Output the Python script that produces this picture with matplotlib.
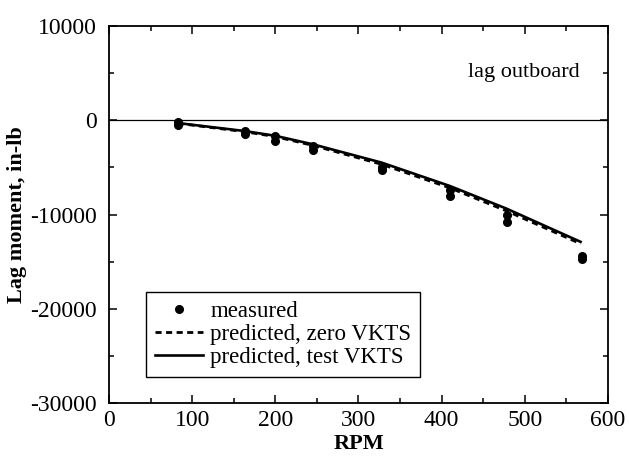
import matplotlib
matplotlib.use('Agg')
import matplotlib.pyplot as plt
from matplotlib.ticker import MultipleLocator

plt.rcParams['font.family'] = 'Liberation Serif'
plt.rcParams['axes.unicode_minus'] = False

# measured lag moment, two readings per rotor speed
rpm_meas = [83, 83, 163.5, 163.5, 200, 200, 245.5, 245.5,
            328, 328, 410, 410, 478, 478, 569, 569]
lag_meas = [-200, -550, -1100, -1450, -1650, -2150, -2700, -3150,
            -4950, -5300, -7450, -8050, -10050, -10750, -14400, -14750]

# predicted curves
rpm_pred = [83, 163.5, 200, 245.5, 328, 410, 478, 567]
lag_zero_vkts = [-330, -1220, -1740, -2680, -4680, -7180, -9620, -13100]
lag_test_vkts = [-300, -1150, -1650, -2560, -4500, -6980, -9380, -12900]

fig = plt.figure(figsize=(6.29, 4.65), dpi=100)
ax = fig.add_axes((0.1733, 0.1333, 0.7933, 0.8108))

ax.axhline(0, color='black', lw=0.9)
ax.plot(rpm_meas, lag_meas, 'o', color='black', ms=5.5, label='measured')
ax.plot(rpm_pred, lag_zero_vkts, color='black', lw=2.0,
        linestyle=(0, (2.2, 1.6)), label='predicted, zero VKTS')
ax.plot(rpm_pred, lag_test_vkts, color='black', lw=1.9,
        label='predicted, test VKTS')

ax.set_xlim(0, 600)
ax.set_ylim(-30000, 10000)
ax.xaxis.set_major_locator(MultipleLocator(100))
ax.xaxis.set_minor_locator(MultipleLocator(50))
ax.yaxis.set_major_locator(MultipleLocator(10000))
ax.yaxis.set_minor_locator(MultipleLocator(5000))
ax.tick_params(which='both', direction='in', top=True, right=True,
               labelsize=17, width=1.1)
ax.tick_params(which='major', length=6)
ax.tick_params(which='minor', length=3.5)
ax.tick_params(axis='y', pad=9)
ax.tick_params(axis='x', pad=5)
for s in ax.spines.values():
    s.set_linewidth(1.3)

ax.set_xlabel('RPM', fontsize=16, fontweight='bold', labelpad=2)
ax.set_ylabel('Lag moment, in-lb', fontsize=16, fontweight='bold')
ax.yaxis.set_label_coords(-0.164, 0.5)

ax.text(566, 5100, 'lag outboard', fontsize=16, ha='right', va='center')

leg = ax.legend(loc='lower left', bbox_to_anchor=(0.074, 0.069),
                borderaxespad=0, fontsize=16.5, frameon=True, fancybox=False,
                edgecolor='black', framealpha=1, handlelength=2.1,
                handletextpad=0.3, labelspacing=0.08, borderpad=0.4,
                numpoints=1)
leg.get_frame().set_linewidth(1.0)

fig.savefig('out.png', dpi=100)
